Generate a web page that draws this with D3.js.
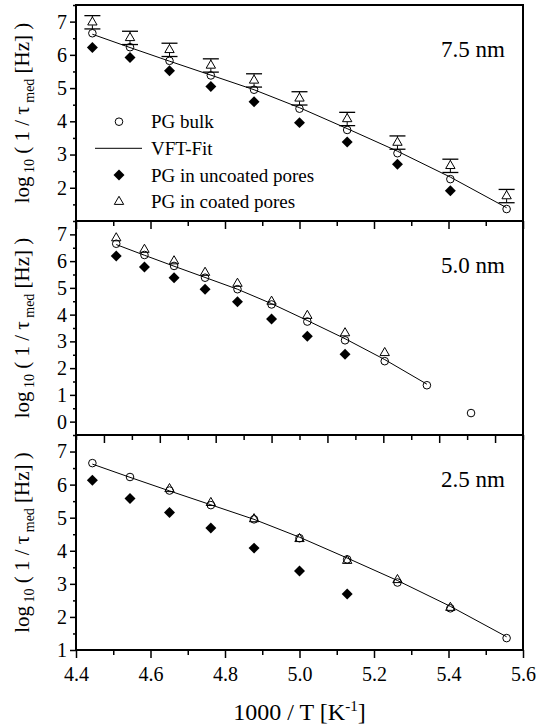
<!DOCTYPE html>
<html>
<head>
<meta charset="utf-8">
<script src="https://cdn.jsdelivr.net/npm/d3@7"></script>
<style>
  body { margin: 0; background: #fff; }
  text { font-family: "Liberation Serif", "Times New Roman", serif; fill: #000; }
</style>
</head>
<body>
<svg id="chart"></svg>
<script>
// 1000/T positions (T = 225 ... 175 K)
const invT = [4.444, 4.545, 4.651, 4.762, 4.878, 5.000, 5.128, 5.263, 5.405, 5.556, 5.714]

// PG bulk, same in every panel (last point only shown in the 5.0 nm panel)
const bulk = [6.65, 6.23, 5.82, 5.38, 4.95, 4.38, 3.74, 3.04, 2.26, 1.36, 0.32]
const vftFit = [6.62, 6.22, 5.81, 5.39, 4.95, 4.41, 3.78, 3.10, 2.32, 1.40]

const uncoated75 = [6.22, 5.92, 5.52, 5.05, 4.59, 3.96, 3.38, 2.71, 1.91]
const uncoated50 = [6.19, 5.78, 5.38, 4.95, 4.48, 3.84, 3.19, 2.52]
const uncoated25 = [6.13, 5.58, 5.16, 4.69, 4.08, 3.39, 2.69]

const coated75 = [6.98, 6.51, 6.15, 5.68, 5.23, 4.69, 4.07, 3.36, 2.66, 1.75]
const coatedErr75 = [0.2, 0.2, 0.2, 0.2, 0.2, 0.2, 0.2, 0.2, 0.2, 0.2]
const coated50 = [6.86, 6.43, 6.00, 5.57, 5.16, 4.49, 3.96, 3.31, 2.57]
const coated25 = [null, null, 5.87, 5.45, 4.96, 4.36, 3.70, 3.12, 2.28]

const poreLabels = ['7.5 nm', '5.0 nm', '2.5 nm']
const legendLabels = ['PG bulk', 'VFT-Fit', 'PG in uncoated pores', 'PG in coated pores']
const xTickLabels = [4.4, 4.6, 4.8, 5.0, 5.2, 5.4, 5.6]

const width = 536, height = 724
const left = 76, right = 523

const panels = [
  { label: poreLabels[0], top: 5, bottom: 221, xDomain: [4.4, 5.6], yDomain: [1, 7.5],
    yTicks: [2, 3, 4, 5, 6, 7], bulk: bulk.slice(0, 10), unc: uncoated75, coat: coated75,
    err: coatedErr75, legend: true },
  { label: poreLabels[1], top: 221, bottom: 435, xDomain: [4.3, 5.9], yDomain: [-0.5, 7.5],
    yTicks: [0, 1, 2, 3, 4, 5, 6, 7], bulk: bulk, unc: uncoated50, coat: coated50 },
  { label: poreLabels[2], top: 435, bottom: 650, xDomain: [4.4, 5.6], yDomain: [1, 7.5],
    yTicks: [1, 2, 3, 4, 5, 6, 7], bulk: bulk.slice(0, 10), unc: uncoated25, coat: coated25,
    xLabels: true }
]

const svg = d3.select('#chart')
  .attr('width', width)
  .attr('height', height)

const circleR = 3.8
const tri = d3.symbol().type(d3.symbolTriangle).size(38)
const diamond = d3.symbol().type(d3.symbolSquare).size(60)

function drawCircle(g, cx, cy) {
  g.append('circle').attr('cx', cx).attr('cy', cy).attr('r', circleR)
    .attr('fill', 'none').attr('stroke', '#000').attr('stroke-width', 1)
}
function drawTri(g, cx, cy) {
  g.append('path').attr('d', tri).attr('transform', `translate(${cx},${cy})`)
    .attr('fill', 'none').attr('stroke', '#000').attr('stroke-width', 1)
}
function drawDiamond(g, cx, cy) {
  g.append('path').attr('d', diamond).attr('transform', `translate(${cx},${cy}) rotate(45)`)
    .attr('fill', '#000')
}

panels.forEach((p, pi) => {
  let g = svg.append('g')
  let x = d3.scaleLinear().domain(p.xDomain).range([left, right])
  let y = d3.scaleLinear().domain(p.yDomain).range([p.bottom, p.top])

  // y axis, outward ticks
  let yMinor = d3.range(Math.ceil(p.yDomain[0]) + 0.5, p.yDomain[1] + 0.01, 1)
  g.append('g').attr('transform', `translate(${left},0)`)
    .call(d3.axisLeft(y).tickValues(yMinor).tickSize(3).tickFormat(''))
    .call(a => a.select('.domain').remove())
  let ya = g.append('g').attr('transform', `translate(${left},0)`)
    .call(d3.axisLeft(y).tickValues(p.yTicks).tickSize(6).tickPadding(3).tickFormat(d3.format('d')))
  ya.select('.domain').remove()
  ya.selectAll('text').style('font-size', '20px')
  g.selectAll('.tick line').attr('stroke-width', 1.5)

  // bottom axis, outward ticks
  let lo = Math.round(p.xDomain[0] * 10), hi = Math.round(p.xDomain[1] * 10)
  let allT = d3.range(lo, hi + 1).map(d => d / 10)
  let major = allT.filter(d => Math.round(d * 10) % 2 === 0)
  let minor = allT.filter(d => Math.round(d * 10) % 2 !== 0)
  g.append('g').attr('transform', `translate(0,${p.bottom})`)
    .call(d3.axisBottom(x).tickValues(minor).tickSize(5).tickFormat(''))
    .call(a => a.select('.domain').remove())
  let xa = g.append('g').attr('transform', `translate(0,${p.bottom})`)
    .call(d3.axisBottom(x).tickValues(p.xLabels ? xTickLabels : major).tickSize(8).tickPadding(9)
      .tickFormat(p.xLabels ? d3.format('.1f') : ''))
  xa.select('.domain').remove()
  xa.selectAll('text').style('font-size', '20px')
  g.selectAll('.tick line').attr('stroke-width', 1.5)

  // fit line
  let line = d3.line().x((d, i) => x(invT[i])).y(d => y(d))
  g.append('path').datum(vftFit).attr('d', line)
    .attr('fill', 'none').attr('stroke', '#000').attr('stroke-width', 1)

  // error bars for coated
  if (p.err) {
    p.coat.forEach((v, i) => {
      let cx = x(invT[i]), e = p.err[i]
      let yt = y(v + e), yb = y(v - e)
      g.append('line').attr('x1', cx - 8).attr('x2', cx + 8).attr('y1', yt).attr('y2', yt)
        .attr('stroke', '#000').attr('stroke-width', 1.3)
      g.append('line').attr('x1', cx - 8).attr('x2', cx + 8).attr('y1', yb).attr('y2', yb)
        .attr('stroke', '#000').attr('stroke-width', 1.3)
      g.append('line').attr('x1', cx).attr('x2', cx).attr('y1', yt).attr('y2', y(v) - 5)
        .attr('stroke', '#000').attr('stroke-width', 1)
      g.append('line').attr('x1', cx).attr('x2', cx).attr('y1', y(v) + 3).attr('y2', yb)
        .attr('stroke', '#000').attr('stroke-width', 1)
    })
  }

  p.unc.forEach((v, i) => drawDiamond(g, x(invT[i]), y(v)))
  p.bulk.forEach((v, i) => drawCircle(g, x(invT[i]), y(v)))
  p.coat.forEach((v, i) => { if (v !== null) drawTri(g, x(invT[i]), y(v)) })

  // frame
  g.append('rect').attr('x', left).attr('y', p.top)
    .attr('width', right - left).attr('height', p.bottom - p.top)
    .attr('fill', 'none').attr('stroke', '#000').attr('stroke-width', 2)

  g.append('text').attr('x', 505).attr('y', p.top + 52)
    .attr('text-anchor', 'end').style('font-size', '23px').text(p.label)

  // y label
  let cy = (p.top + p.bottom) / 2
  let t = g.append('text').attr('transform', `translate(29,${cy}) rotate(-90)`)
    .attr('text-anchor', 'middle').style('font-size', '21px')
  t.append('tspan').text('log')
  t.append('tspan').attr('dy', 5).style('font-size', '14px').text(' 10')
  t.append('tspan').attr('dy', -5).text(' ( 1 / τ')
  t.append('tspan').attr('dy', 5).style('font-size', '14px').text(' med')
  t.append('tspan').attr('dy', -5).text('  [Hz] )')

  if (p.legend) {
    let lx = 119, tx = 151, ys = [121.7, 148.3, 175, 201.7]
    drawCircle(g, lx, ys[0])
    g.append('line').attr('x1', 95).attr('x2', 142).attr('y1', ys[1]).attr('y2', ys[1])
      .attr('stroke', '#000').attr('stroke-width', 1)
    drawDiamond(g, lx, ys[2])
    drawTri(g, lx, ys[3])
    legendLabels.forEach((s, i) => {
      g.append('text').attr('x', tx).attr('y', ys[i]).attr('dy', '0.35em')
        .style('font-size', '19px').text(s)
    })
  }
})

// x axis title
let xt = svg.append('text').attr('x', (left + right) / 2).attr('y', 720)
  .attr('text-anchor', 'middle').style('font-size', '24px')
xt.append('tspan').text('1000 / T [K')
xt.append('tspan').attr('dy', -9).style('font-size', '15px').text('-1')
xt.append('tspan').attr('dy', 9).text(']')
</script>
</body>
</html>
